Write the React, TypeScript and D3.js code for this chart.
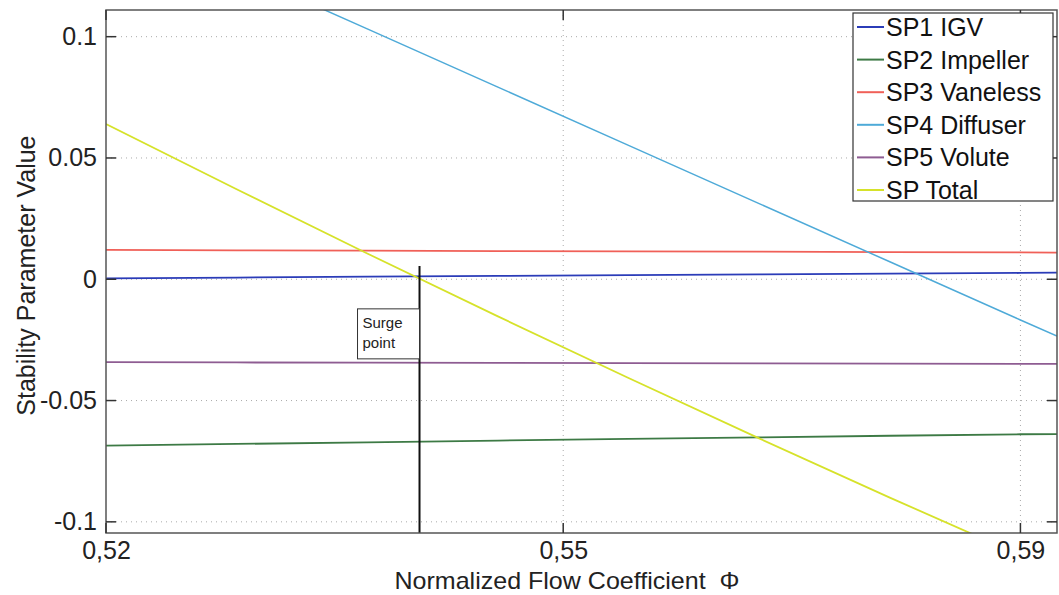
import { scaleLinear, line, axisLeft, axisBottom, select } from "d3";
import { useEffect, useRef } from "react";

// flow coefficient samples (the x axis)
const phi = [0.52, 0.53, 0.54, 0.55, 0.56, 0.57, 0.58, 0.59, 0.5928];

const sp1Igv = [0.0004, 0.0007, 0.0011, 0.0014, 0.0017, 0.002, 0.0023, 0.0026, 0.0027];
const sp2Impeller = [-0.0686, -0.0679, -0.0672, -0.0665, -0.0658, -0.0652, -0.0645, -0.0639, -0.0638];
const sp3Vaneless = [0.0121, 0.0119, 0.0118, 0.0116, 0.0115, 0.0114, 0.0112, 0.0111, 0.011];
const sp4Diffuser = [0.1512, 0.1272, 0.1032, 0.0792, 0.0552, 0.0312, 0.0072, -0.0168, -0.0234];
const sp5Volute = [-0.0342, -0.0343, -0.0344, -0.0345, -0.0346, -0.0347, -0.0348, -0.0349, -0.0349];
const spTotal = [0.064, 0.0371, 0.0106, -0.0153, -0.0407, -0.0656, -0.09, -0.1138, -0.12];

const seriesNames = ["SP1 IGV", "SP2 Impeller", "SP3 Vaneless", "SP4 Diffuser", "SP5 Volute", "SP Total"];
const seriesColors = ["#2b3cb8", "#3d7a45", "#f06058", "#4eaad8", "#8e5c92", "#d6e22a"];

const xTickValues = [0.52, 0.555, 0.59];
const xTickLabels = ["0,52", "0,55", "0,59"];
const yTickValues = [-0.1, -0.05, 0, 0.05, 0.1];
const yTickLabels = ["-0.1", "-0.05", "0", "0.05", "0.1"];

const surgePhi = 0.544;
const surgeTop = 0.0055;

const margin = { top: 10, left: 106, right: 2, bottom: 62 };
const W = 1059;
const H = 595;
const font = "Liberation Sans, Arial, sans-serif";

export default function App() {
  const gx = useRef<SVGGElement>(null);
  const gy = useRef<SVGGElement>(null);

  const x = scaleLinear().domain([0.52, 0.5928]).range([margin.left, W - margin.right]);
  const y = scaleLinear().domain([-0.1046, 0.111]).range([H - margin.bottom, margin.top]);
  const allSeries = [sp1Igv, sp2Impeller, sp3Vaneless, sp4Diffuser, sp5Volute, spTotal];
  const lineGen = line<number>()
    .x((_, i) => x(phi[i]))
    .y((d) => y(d));

  const x0 = x.range()[0], x1 = x.range()[1];
  const y0 = y.range()[1], y1 = y.range()[0];

  useEffect(() => {
    if (gx.current) {
      const g = select(gx.current);
      g.selectAll("*").remove();
      g.call(
        axisBottom(x)
          .tickValues(xTickValues)
          .tickSize(0)
          .tickPadding(8)
          .tickFormat((_, i) => xTickLabels[i])
      );
      g.select(".domain").remove();
      g.selectAll("text").attr("font-size", 25).attr("font-family", font).attr("fill", "#222");
    }
    if (gy.current) {
      const g = select(gy.current);
      g.selectAll("*").remove();
      g.call(
        axisLeft(y)
          .tickValues(yTickValues)
          .tickSize(0)
          .tickPadding(9)
          .tickFormat((_, i) => yTickLabels[i])
      );
      g.select(".domain").remove();
      g.selectAll("text").attr("font-size", 25).attr("font-family", font).attr("fill", "#222");
    }
  }, []);

  return (
    <div style={{ position: "fixed", left: 0, top: 0 }}>
      <svg width={W} height={H} style={{ display: "block", background: "#fff" }}>
        <defs>
          <clipPath id="plot">
            <rect x={x0} y={y0} width={x1 - x0} height={y1 - y0} />
          </clipPath>
        </defs>
        {/* grid */}
        {yTickValues.map((v) => (
          <line key={`gy${v}`} x1={x0} x2={x1} y1={y(v)} y2={y(v)} stroke="#aaa" strokeWidth={1} strokeDasharray="1 4" />
        ))}
        {xTickValues.slice(1).map((v) => (
          <line key={`gx${v}`} x1={x(v)} x2={x(v)} y1={y0} y2={y1} stroke="#aaa" strokeWidth={1} strokeDasharray="1 4" />
        ))}
        {/* series */}
        <g clipPath="url(#plot)">
          {allSeries.map((s, i) => (
            <path key={seriesNames[i]} d={lineGen(s) ?? ""} fill="none" stroke={seriesColors[i]} strokeWidth={i === 3 ? 1.5 : 1.8} />
          ))}
        </g>
        {/* surge point */}
        <line x1={x(surgePhi)} x2={x(surgePhi)} y1={y(surgeTop)} y2={y1} stroke="#111" strokeWidth={2} />
        <rect x={x(surgePhi) - 62} y={y(-0.0122)} width={62} height={50} fill="#fff" stroke="#333" strokeWidth={1} />
        <text x={x(surgePhi) - 57} y={y(-0.0122) + 19} fontSize={15} fontFamily={font} fill="#222">Surge</text>
        <text x={x(surgePhi) - 57} y={y(-0.0122) + 39} fontSize={15} fontFamily={font} fill="#222">point</text>
        {/* frame */}
        <rect x={x0} y={y0} width={x1 - x0} height={y1 - y0} fill="none" stroke="#555" strokeWidth={1.5} />
        {yTickValues.map((v) => (
          <g key={`ty${v}`}>
            <line x1={x0} x2={x0 + 10} y1={y(v)} y2={y(v)} stroke="#333" strokeWidth={1.5} />
            <line x1={x1 - 10} x2={x1} y1={y(v)} y2={y(v)} stroke="#333" strokeWidth={1.5} />
          </g>
        ))}
        {xTickValues.map((v) => (
          <g key={`tx${v}`}>
            <line x1={x(v)} x2={x(v)} y1={y1} y2={y1 - 10} stroke="#333" strokeWidth={1.5} />
            <line x1={x(v)} x2={x(v)} y1={y0} y2={y0 + 10} stroke="#333" strokeWidth={1.5} />
          </g>
        ))}
        <g ref={gx} transform={`translate(0, ${y1})`} />
        <g ref={gy} transform={`translate(${x0}, 0)`} />
        {/* axis titles */}
        <text
          x={567}
          y={589}
          textAnchor="middle"
          fontSize={24}
          fontFamily={font}
          fill="#222"
          textLength={345}
          lengthAdjust="spacingAndGlyphs"
        >
          {"Normalized Flow Coefficient\u00a0\u00a0Φ"}
        </text>
        <text
          transform={`translate(35, ${y(0.0015)}) rotate(-90)`}
          textAnchor="middle"
          fontSize={25}
          fontFamily={font}
          fill="#222"
        >
          Stability Parameter Value
        </text>
        {/* legend */}
        <g>
          <rect x={853} y={13} width={200} height={188} fill="#fff" stroke="#333" strokeWidth={1.2} />
          {seriesNames.map((name, i) => {
            const cy = 27 + i * 32.6;
            return (
              <g key={name}>
                <line x1={857} x2={884} y1={cy} y2={cy} stroke={seriesColors[i]} strokeWidth={2} />
                <text x={886} y={cy + 9} fontSize={25} fontFamily={font} fill="#111">
                  {name}
                </text>
              </g>
            );
          })}
        </g>
      </svg>
    </div>
  );
}
